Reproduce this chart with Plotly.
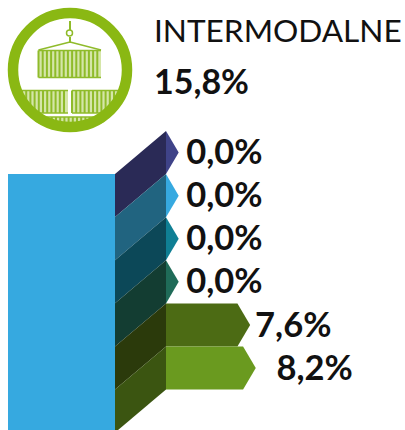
import plotly.graph_objects as go

values = [0.0, 0.0, 0.0, 0.0, 7.6, 8.2]
labels = ["0,0%", "0,0%", "0,0%", "0,0%", "7,6%", "8,2%"]
bar_colors = ["#3f4388", "#36a9e0", "#0f7f94", "#1f6b58", "#4c6b14", "#6a9a1f"]
side_colors = ["#2a2a56", "#216480", "#0c4858", "#133d32", "#2b3a0b", "#3b5511"]
label_gaps = [0.8, 0.8, 0.8, 0.8, 0.53, 2.2]
title_text = "INTERMODALNE"
total_text = "15,8%"

W, H = 405, 430
PX_PER_PCT = 9.4
PX_PER_BAND = 43.1
X0, Y0 = 166, 131
TIP = 1.35
SIDE = 51 / PX_PER_PCT
SLANT = 43 / PX_PER_BAND
BLUE_W = 107 / PX_PER_PCT
LABEL_DY = 0.07

GREEN = "#8ab813"
LIGHT = "#d5e6a8"
MID = "#8fbb2a"

fig = go.Figure()

# blue front panel
fig.add_trace(go.Scatter(
    x=[-SIDE - BLUE_W, -SIDE, -SIDE, -SIDE - BLUE_W],
    y=[SLANT, SLANT, 6 + SLANT, 6 + SLANT],
    fill="toself", fillcolor="#36a9e0", mode="none", hoverinfo="skip"))

for i, v in enumerate(values):
    fig.add_trace(go.Scatter(
        x=[-SIDE, 0, 0, -SIDE],
        y=[i + SLANT, i, i + 1, i + 1 + SLANT],
        fill="toself", fillcolor=side_colors[i], mode="none", hoverinfo="skip"))
    fig.add_trace(go.Scatter(
        x=[0, v, v + TIP, v, 0],
        y=[i, i, i + 0.5, i + 1, i + 1],
        fill="toself", fillcolor=bar_colors[i], mode="none", hoverinfo="skip"))

fig.add_trace(go.Scatter(
    x=[v + TIP + g for v, g in zip(values, label_gaps)],
    y=[i + 0.5 + LABEL_DY for i in range(len(values))],
    mode="text", text=labels, textposition="middle right",
    textfont=dict(family="Lato", size=34.5, color="#111111", weight=700),
    hoverinfo="skip", cliponaxis=False))

shapes = []


def rect(x0, y0, x1, y1, color):
    shapes.append(dict(type="rect", xref="paper", yref="paper", x0=x0 / W, x1=x1 / W,
                       y0=1 - y0 / H, y1=1 - y1 / H, fillcolor=color, line_width=0, layer="above"))


def seg(x0, y0, x1, y1, color, w):
    shapes.append(dict(type="line", xref="paper", yref="paper", x0=x0 / W, x1=x1 / W,
                       y0=1 - y0 / H, y1=1 - y1 / H, line=dict(color=color, width=w), layer="above"))


def ring(cx, cy, r, w, color):
    shapes.append(dict(type="circle", xref="paper", yref="paper", x0=(cx - r) / W, x1=(cx + r) / W,
                       y0=1 - (cy + r) / H, y1=1 - (cy - r) / H, fillcolor="rgba(0,0,0,0)",
                       line=dict(color=color, width=w), layer="above"))


def container(x0, y0, x1, y1):
    rect(x0, y0, x1, y1, LIGHT)
    x = x0
    while x <= x1 + 0.1:
        seg(x, y0, x, y1, MID, 2)
        x += 4.2
    seg(x0, y0, x1, y0, MID, 1.5)
    seg(x0, y1, x1, y1, MID, 1.5)


container(38.5, 50.5, 101, 77.5)
container(22, 90.5, 68, 113)
container(72, 90.5, 118, 113)
container(35, 117, 105, 123)
ring(70, 70, 66, 8, "#ffffff")
ring(70, 70, 57, 10.5, GREEN)
seg(70, 21, 70, 30, MID, 2)
ring(69.5, 33, 3, 1.5, MID)
seg(70, 37, 70, 43, MID, 2)
seg(38.5, 50, 70, 42, MID, 1.5)
seg(70, 42, 101, 50, MID, 1.5)

fig.update_layout(
    width=W, height=H, margin=dict(l=0, r=0, t=0, b=0),
    paper_bgcolor="white", plot_bgcolor="white", showlegend=False, shapes=shapes,
    xaxis=dict(range=[-X0 / PX_PER_PCT, (W - X0) / PX_PER_PCT], visible=False, fixedrange=True),
    yaxis=dict(range=[(H - Y0) / PX_PER_BAND, -Y0 / PX_PER_BAND], visible=False, fixedrange=True),
    annotations=[
        dict(text=title_text, xref="paper", yref="paper", x=152 / W, y=1 - 30 / H, xanchor="left",
             yanchor="middle", showarrow=False, font=dict(family="Lato", size=31.6, color="#111111")),
        dict(text=f"<b>{total_text}</b>", xref="paper", yref="paper", x=152 / W, y=1 - 80 / H, xanchor="left",
             yanchor="middle", showarrow=False, font=dict(family="Lato", size=34, color="#111111")),
    ],
)
fig.write_html("out.html", config={"displayModeBar": False},
               post_script="document.body.style.margin='0';document.documentElement.style.overflow='hidden';")
